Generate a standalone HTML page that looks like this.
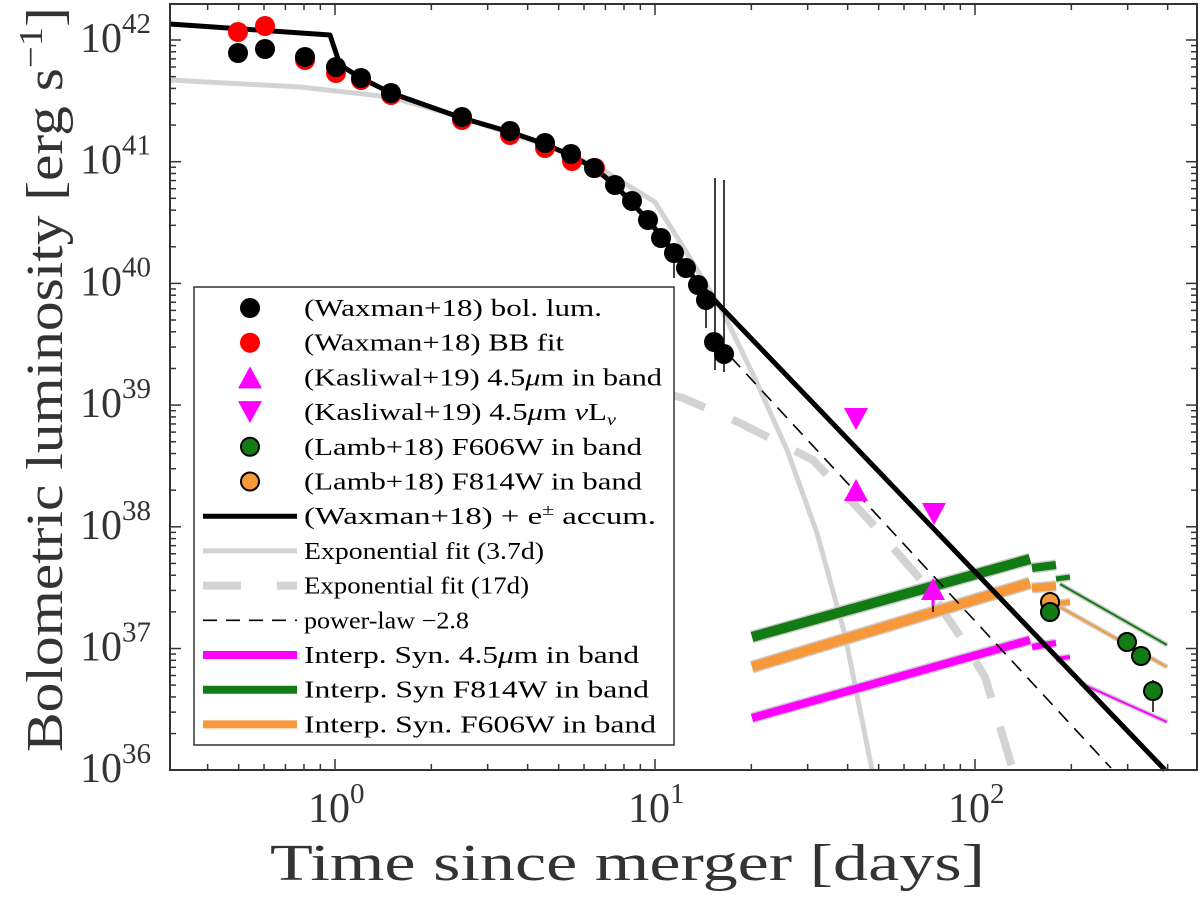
<!DOCTYPE html>
<html><head><meta charset="utf-8"><style>
body{margin:0;background:#fff}
svg{display:block}
text{font-family:"Liberation Serif",serif}
</style></head><body>
<svg id="s" width="1200" height="902" xmlns="http://www.w3.org/2000/svg">
<rect width="1200" height="902" fill="#fff"/>
<g id="g"></g>
</svg>
<script>
const X=t=>335+320*Math.log10(t), Y=l=>40+121.7*(42-l);
let h='';
const pl=(pts,st)=>h+=`<polyline points="${pts.map(p=>p.join(',')).join(' ')}" fill="none" ${st}/>`;
// gray exponential solid
pl([[170,80],[300,87],[390,97],[460,117],[545,145],[600,168],[655,202],[690,258],[723,312],[757,383],[787,450],[817,533],[845,635],[872,770]],'stroke="#d3d3d3" stroke-width="5" stroke-linejoin="round"');
// gray dashed
pl([[600,375],[683,398],[740,423],[813,460],[869,520],[927,587],[958,633],[985,677],[1012,767]],'stroke="#d3d3d3" stroke-width="8" stroke-dasharray="40,30"');
function band(a,b,c,d,col,w){h+=`<line x1="${a}" y1="${b}" x2="${c}" y2="${d}" stroke="#ccc" stroke-width="${w+3}"/><line x1="${a}" y1="${b}" x2="${c}" y2="${d}" stroke="${col}" stroke-width="${w}"/>`;}
band(752,667,1030,583,'#f7993a',10);band(1032,588,1056,586,'#f7993a',8);band(1056,604,1070,602,'#f7993a',5);band(1060,607,1167,667,'#f7993a',2);
band(752,637,1030,559,'#137b13',10);band(1032,568,1056,565,'#137b13',8);band(1056,579,1070,577,'#137b13',5);band(1060,584,1167,645,'#137b13',2);
band(752,718,1030,640,'#f0f',8);band(1032,647,1056,643,'#f0f',6);band(1056,659,1070,657,'#f0f',4);band(1080,683,1167,722,'#f0f',2);
pl([[715,340],[1111,768]],'stroke="#000" stroke-width="1.6" stroke-dasharray="14,9"');
pl([[170,24],[330,35],[340,65],[361,78],[391,93],[462,118],[510,132],[545,144],[572,156],[594,168],[615,185],[648,220],[674,252],[698,283],[1165,770]],'stroke="#000" stroke-width="5" stroke-linejoin="round"');
[[715,178,370],[724,180,372],[674,248,278],[706,300,328],[933,580,612],[1153,680,712]].forEach(e=>h+=`<line x1="${e[0]}" y1="${e[1]}" x2="${e[0]}" y2="${e[2]}" stroke="#000" stroke-width="1.5"/>`);
[[238,32],[265,26],[305,60],[336,73],[361,80],[391,95],[462,120],[510,135],[545,148],[572,161],[595,168]].forEach(p=>h+=`<circle cx="${p[0]}" cy="${p[1]}" r="10" fill="#f00"/>`);
[[238,53],[265,49],[305,57],[336,67],[361,78],[391,93],[462,117],[510,131],[545,143],[571,154],[594,168],[615,185],[632,201],[648,220],[661,238],[674,253],[686,268],[698,285],[706,300],[714,342],[724,354]].forEach(p=>h+=`<circle cx="${p[0]}" cy="${p[1]}" r="10" fill="#000"/>`);
const tu=(x,y)=>h+=`<polygon points="${x-12},${y+10} ${x+12},${y+10} ${x},${y-12}" fill="#f0f"/>`;
const td=(x,y)=>h+=`<polygon points="${x-12},${y-10} ${x+12},${y-10} ${x},${y+12}" fill="#f0f"/>`;
td(856,418);td(934,513);tu(856,491);tu(933,590);
h+=`<line x1="933" y1="590" x2="933" y2="606" stroke="#f0f" stroke-width="3"/>`;
h+=`<circle cx="1050" cy="602" r="9" fill="#f7993a" stroke="#000" stroke-width="2"/>`;
[[1050,612],[1127,642],[1141,656],[1153,691]].forEach(p=>h+=`<circle cx="${p[0]}" cy="${p[1]}" r="9" fill="#137b13" stroke="#000" stroke-width="2"/>`);
h+=`<rect x="170" y="4" width="1027" height="766" fill="none" stroke="#333" stroke-width="2"/>`;
for(let d=36;d<=42;d++){for(let m=1;m<10;m++){const y=Y(d+Math.log10(m));if(y<4||y>770)continue;const L=m==1?11:6;h+=`<line x1="170" y1="${y}" x2="${170+L}" y2="${y}" stroke="#333" stroke-width="1.5"/><line x1="1197" y1="${y}" x2="${1197-L}" y2="${y}" stroke="#333" stroke-width="1.5"/>`;}
h+=`<text x="80" y="${Y(d)+12}" font-size="42" fill="#333">10<tspan dy="-19" font-size="29">${d}</tspan></text>`;}
for(let d=-1;d<=2;d++){for(let m=1;m<10;m++){const x=X(Math.pow(10,d)*m);if(x<170||x>1197)continue;const L=m==1?11:6;h+=`<line x1="${x}" y1="770" x2="${x}" y2="${770-L}" stroke="#333" stroke-width="1.5"/><line x1="${x}" y1="4" x2="${x}" y2="${4+L}" stroke="#333" stroke-width="1.5"/>`;}
if(d>=0)h+=`<text x="${X(Math.pow(10,d))-27}" y="822" font-size="42" fill="#333">10<tspan dy="-19" font-size="29">${d}</tspan></text>`;}
h+=`<text x="270" y="880" font-size="52" fill="#333" textLength="715" lengthAdjust="spacingAndGlyphs">Time since merger [days]</text>`;
h+=`<text transform="translate(62,752) rotate(-90)" font-size="52" fill="#333" textLength="745" lengthAdjust="spacingAndGlyphs">Bolometric luminosity [erg s<tspan dy="-20" font-size="34">−1</tspan><tspan dy="20">]</tspan></text>`;
h+=`<rect x="194" y="287" width="480" height="458" fill="#fff" stroke="#333" stroke-width="1.5"/>`;
const labs=[['(Waxman+18) bol. lum.',298],['(Waxman+18) BB fit',260],['(Kasliwal+19) 4.5<tspan font-style="italic">μ</tspan>m in band',358],['(Kasliwal+19) 4.5<tspan font-style="italic">μ</tspan>m <tspan font-style="italic">ν</tspan>L<tspan dy="5" font-size="16" font-style="italic">ν</tspan>',312],['(Lamb+18) F606W in band',338],['(Lamb+18) F814W in band',338],['(Waxman+18) + e<tspan dy="-9" font-size="16">±</tspan><tspan dy="9"> accum.</tspan>',352],['Exponential fit (3.7d)',240],['Exponential fit (17d)',225],['power-law −2.8',165],['Interp. Syn. 4.5<tspan font-style="italic">μ</tspan>m in band',335],['Interp. Syn F814W in band',345],['Interp. Syn. F606W in band',352]];
const ly=i=>308+i*34.7;
labs.forEach((s,i)=>{h+=`<text x="304" y="${ly(i)+8}" font-size="24" fill="#000" textLength="${s[1]}" lengthAdjust="spacingAndGlyphs">${s[0]}</text>`;});
h+=`<circle cx="250" cy="${ly(0)}" r="10" fill="#000"/><circle cx="250" cy="${ly(1)}" r="10" fill="#f00"/>`;
tu(250,ly(2)+1);td(250,ly(3)-1);
h+=`<circle cx="250" cy="${ly(4)}" r="9" fill="#137b13" stroke="#000" stroke-width="2"/><circle cx="250" cy="${ly(5)}" r="9" fill="#f7993a" stroke="#000" stroke-width="2"/>`;
const ll=(i,st)=>h+=`<line x1="203" y1="${ly(i)}" x2="297" y2="${ly(i)}" ${st}/>`;
ll(6,'stroke="#000" stroke-width="5"');ll(7,'stroke="#d3d3d3" stroke-width="5"');ll(8,'stroke="#d3d3d3" stroke-width="8" stroke-dasharray="38,36"');
ll(9,'stroke="#000" stroke-width="1.6" stroke-dasharray="14,9"');ll(10,'stroke="#f0f" stroke-width="8"');ll(11,'stroke="#137b13" stroke-width="8"');ll(12,'stroke="#f7993a" stroke-width="8"');
document.getElementById('g').innerHTML=h;
</script>
</body></html>
